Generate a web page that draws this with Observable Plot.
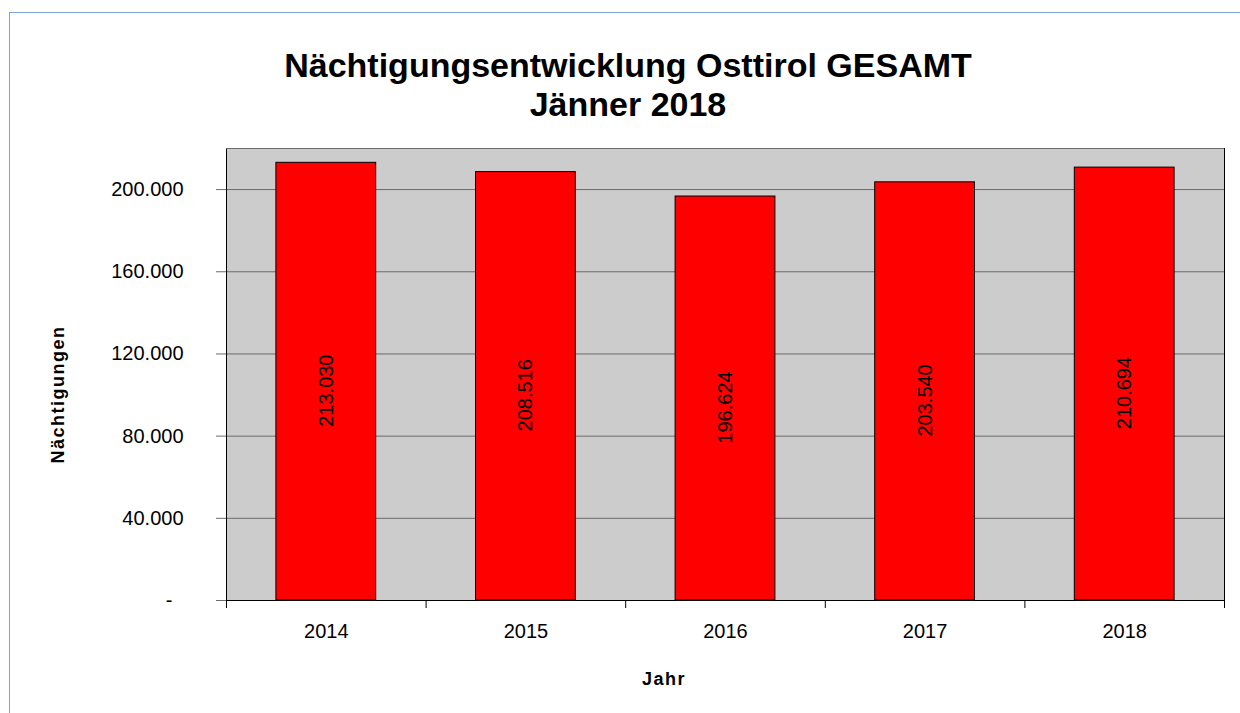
<!DOCTYPE html>
<html>
<head>
<meta charset="utf-8">
<script src="https://cdn.jsdelivr.net/npm/d3@7"></script>
<script src="https://cdn.jsdelivr.net/npm/@observablehq/plot@0.6"></script>
<style>
  html, body { margin: 0; padding: 0; background: #fff; }
  #wrap { position: relative; width: 1240px; height: 713px; overflow: hidden; font-family: "Liberation Sans", Arial, sans-serif; }
  #border { position: absolute; left: 9px; top: 12px; width: 1240px; height: 720px; border-left: 1px solid #7ba3d3; border-top: 1px solid #7ba3d3; box-sizing: border-box; }
  #title { position: relative; height: 140px; box-sizing: border-box; padding-top: 46px; padding-left: 16px; text-align: center; font-size: 34px; font-weight: bold; line-height: 39px; color: #000; }
  #chart { position: relative; }
  #chart svg { display: block; }
</style>
</head>
<body>
<div id="wrap">
  <div id="border"></div>
  <div id="title">Nächtigungsentwicklung Osttirol GESAMT<br>Jänner 2018</div>
  <div id="chart"></div>
</div>
<script>
const years = [2014, 2015, 2016, 2017, 2018];
const values = [213030, 208516, 196624, 203540, 210694];
const yTicks = [0, 40000, 80000, 120000, 160000, 200000];
const yMax = 220000;
const xLabel = "Jahr";
const yLabel = "Nächtigungen";

const data = years.map((year, i) => ({year, value: values[i]}));
const boundaries = [...years.map(y => y - 0.5), years[years.length - 1] + 0.5];

const de = d3.formatLocale({decimal: ",", thousands: ".", grouping: [3], currency: ["", " €"]});
const fmt = de.format(",d");
const yFmt = d => d === 0 ? "-\u2007" : fmt(d);

const svg = Plot.plot({
  width: 1240,
  height: 573,
  marginTop: 8,
  marginBottom: 113,
  marginLeft: 226,
  marginRight: 16,
  style: {fontFamily: "Liberation Sans, Arial, sans-serif", fontSize: "20px", color: "#000", background: "transparent"},
  x: {domain: [boundaries[0], boundaries[boundaries.length - 1]], label: null},
  y: {domain: [0, yMax], label: null},
  marks: [
    Plot.frame({fill: "#cccccc"}),
    Plot.ruleY(yTicks.filter(t => t > 0), {stroke: "#6b6b6b", strokeWidth: 1}),
    Plot.rectY(data, {x1: d => d.year - 0.25, x2: d => d.year + 0.25, y1: 0, y2: "value", fill: "#ff0000", stroke: "#000", strokeWidth: 1}),
    Plot.text(data, {x: "year", y: d => d.value / 2, text: d => fmt(d.value), rotate: -90, dy: 9, fontSize: 20, fill: "#000"}),
    Plot.frame({stroke: "#000"}),
    Plot.ruleY([yMax], {stroke: "#6b6b6b"}),
    Plot.axisY({ticks: yTicks, tickSize: 10, tickPadding: 33, tickFormat: yFmt, fontSize: 20, stroke: "#6b6b6b", label: null}),
    Plot.axisX({ticks: boundaries, tickSize: 8, tickFormat: () => "", stroke: "#000", label: null}),
    Plot.axisX({ticks: years, tickSize: 0, tickPadding: 23, tickFormat: d => String(d), fontSize: 20, label: null}),
    Plot.text([yLabel], {frameAnchor: "left", textAnchor: "middle", rotate: -90, dx: -168.5, dy: 20, fontSize: 18, fontWeight: "bold", fill: "#000"}),
    Plot.text([xLabel], {frameAnchor: "bottom", textAnchor: "middle", lineAnchor: "bottom", dx: -61.5, dy: 84, fontSize: 18, fontWeight: "bold", fill: "#000"})
  ]
});
d3.select(svg).selectAll("text").filter(function() { return this.textContent === xLabel || this.textContent === yLabel; })
  .attr("letter-spacing", "1.5px");
document.getElementById("chart").appendChild(svg);
</script>
</body>
</html>
